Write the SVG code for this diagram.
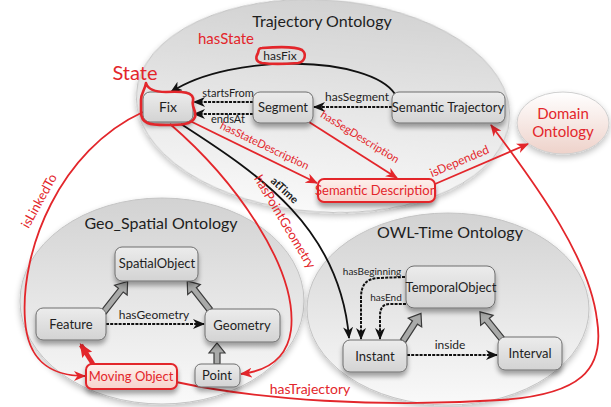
<svg xmlns="http://www.w3.org/2000/svg" width="611" height="407" viewBox="0 0 611 407">
<style>
  text { font-family: Lato, "Open Sans", "Liberation Sans", sans-serif; }
  .title { font-size: 16px; fill: #1e1e1e; text-anchor: middle; }
  .node { font-size: 13px; fill: #1e1e1e; text-anchor: middle; }
  .rnode { font-size: 13px; fill: #e3262b; text-anchor: middle; }
  .lbl { font-size: 11px; fill: #1e1e1e; text-anchor: middle; }
  .small { font-size: 10px; fill: #1e1e1e; text-anchor: middle; }
  .rlbl { font-size: 11px; fill: #e3262b; text-anchor: middle; }
  .onto { fill: url(#ontoFill); stroke: #c4c4c4; stroke-width: 1; filter: url(#ovalShadow); }
  .box { fill: url(#boxFill); stroke: #6e6e6e; stroke-width: 1; filter: url(#shadow); }
  .pbox { fill: url(#pinkFill); stroke: #e3262b; stroke-width: 2; filter: url(#shadow); }
  .dash { fill: none; stroke: #111; stroke-width: 2; stroke-dasharray: 3 1.2; marker-end: url(#arrowK); }
  .solid { fill: none; stroke: #111; stroke-width: 1.8; marker-end: url(#arrowK); }
  .red { fill: none; stroke: #e3262b; stroke-width: 1.8; marker-end: url(#arrowR); }
  .block { fill: #a9aaa9; stroke: #3a3a3a; stroke-width: 1.2; }
  .mark { fill: none; stroke: #e3262b; stroke-width: 2.6; stroke-linejoin: round; }
</style>
<defs>
  <linearGradient id="ontoFill" x1="0" y1="0" x2="0" y2="1">
    <stop offset="0" stop-color="#d2d2d2"/>
    <stop offset="0.7" stop-color="#eeeeee"/>
    <stop offset="1" stop-color="#f9f9f9"/>
  </linearGradient>
  <linearGradient id="boxFill" x1="0" y1="0" x2="0" y2="1">
    <stop offset="0" stop-color="#ececec"/>
    <stop offset="1" stop-color="#d3d3d3"/>
  </linearGradient>
  <linearGradient id="pinkFill" x1="0" y1="0" x2="0" y2="1">
    <stop offset="0" stop-color="#fdf0ec"/>
    <stop offset="1" stop-color="#f7d3cc"/>
  </linearGradient>
  <linearGradient id="domainFill" x1="0" y1="0" x2="0" y2="1">
    <stop offset="0" stop-color="#ffffff"/>
    <stop offset="1" stop-color="#eed2ca"/>
  </linearGradient>
  <filter id="shadow" x="-20%" y="-30%" width="140%" height="190%">
    <feGaussianBlur in="SourceAlpha" stdDeviation="2.5"/>
    <feOffset dy="4" result="b"/>
    <feComponentTransfer><feFuncA type="linear" slope="0.35"/></feComponentTransfer>
    <feMerge><feMergeNode/><feMergeNode in="SourceGraphic"/></feMerge>
  </filter>
  <filter id="ovalShadow" x="-10%" y="-10%" width="120%" height="125%">
    <feGaussianBlur in="SourceAlpha" stdDeviation="3"/>
    <feOffset dy="3"/>
    <feComponentTransfer><feFuncA type="linear" slope="0.25"/></feComponentTransfer>
    <feMerge><feMergeNode/><feMergeNode in="SourceGraphic"/></feMerge>
  </filter>
  <marker id="arrowK" viewBox="0 0 12 10" refX="11" refY="5" markerWidth="12" markerHeight="10" markerUnits="userSpaceOnUse" orient="auto">
    <path d="M0,0 L12,5 L0,10 L3.5,5 Z" fill="#111"/>
  </marker>
  <marker id="arrowR" viewBox="0 0 12 10" refX="11" refY="5" markerWidth="12" markerHeight="10" markerUnits="userSpaceOnUse" orient="auto">
    <path d="M0,0 L12,5 L0,10 L3.5,5 Z" fill="#e3262b"/>
  </marker>
  <marker id="arrowRBig" viewBox="0 0 12 10" refX="10" refY="5" markerWidth="14" markerHeight="13" markerUnits="userSpaceOnUse" orient="auto">
    <path d="M0,0 L12,5 L0,10 L2,5 Z" fill="#e3262b"/>
  </marker>
</defs>

<rect width="611" height="407" fill="#ffffff"/>

<!-- ontology regions -->
<g id="trajectory-ontology">
  <ellipse class="onto" cx="323" cy="106" rx="187" ry="106" transform="rotate(4 323 106)"/>
  <text class="title" x="322" y="27">Trajectory Ontology</text>
</g>
<g id="geo-spatial-ontology">
  <ellipse class="onto" cx="162" cy="301" rx="142" ry="103"/>
  <text class="title" x="161" y="229">Geo_Spatial Ontology</text>
</g>
<g id="owl-time-ontology">
  <ellipse class="onto" cx="448" cy="309" rx="141" ry="96"/>
  <text class="title" x="450" y="238">OWL-Time Ontology</text>
</g>
<g id="domain-ontology">
  <ellipse cx="563" cy="123" rx="46" ry="31" fill="url(#domainFill)" stroke="#cfcfcf" stroke-width="1" filter="url(#ovalShadow)"/>
  <text class="rnode" x="563" y="119" style="font-size:15px">Domain</text>
  <text class="rnode" x="563" y="137" style="font-size:15px">Ontology</text>
</g>

<!-- connectors -->
<g id="connectors">
  <!-- hasFix -->
  <path class="solid" d="M395,94 C370,56 232,52 171,92"/>
  <text class="lbl" x="280" y="60" style="font-size:12px">hasFix</text>
  <!-- hasSegment -->
  <path class="dash" d="M392,107 L314,107"/>
  <text class="lbl" x="357" y="101" style="font-size:12px">hasSegment</text>
  <!-- startsFrom / endsAt -->
  <path class="dash" d="M253,102 L194,102"/>
  <text class="lbl" x="228" y="97">startsFrom</text>
  <path class="dash" d="M253,114 L194,114"/>
  <text class="lbl" x="228" y="123">endsAt</text>
  <!-- hasGeometry -->
  <path class="dash" d="M106,324 L204,324"/>
  <text class="lbl" x="154" y="319" style="font-size:12px">hasGeometry</text>
  <!-- inside -->
  <path class="dash" d="M407,355 L497,355"/>
  <text class="lbl" x="450" y="349" style="font-size:12px">inside</text>
  <!-- hasBeginning / hasEnd -->
  <path class="dash" d="M405,277 L378,278 C366,279 361,285 361,298 L361,339"/>
  <text class="small" x="372" y="275">hasBeginning</text>
  <path class="dash" d="M406,304 L390,304 C383,304 380,308 380,316 L380,339"/>
  <text class="small" x="386" y="301">hasEnd</text>
  <!-- atTime -->
  <path class="solid" d="M181,124 C260,175 340,228 349,338"/>
  <text class="lbl" x="0" y="0" style="font-weight:bold" transform="translate(282,193) rotate(43)">atTime</text>

  <!-- red relations -->
  <path class="red" d="M186,119 L317,183"/>
  <text class="rlbl" transform="translate(263,149) rotate(25.5)">hasStateDescription</text>
  <path class="red" d="M309,122 L397,178"/>
  <text class="rlbl" transform="translate(358,140) rotate(31.5)">hasSegDescription</text>
  <path class="red" d="M435,184 L528,144"/>
  <text class="rlbl" transform="translate(461,165) rotate(-23)" style="font-size:12px">isDepended</text>
  <path class="red" d="M143,112 C60,150 20,250 25,320 C28,365 55,376 85,376"/>
  <text class="rlbl" transform="translate(43,203) rotate(-61)" style="font-size:13px">isLinkedTo</text>
  <path class="red" d="M170,124 C235,180 298,268 291,330 C287,360 266,371 241,374"/>
  <text class="rlbl" transform="translate(281,224) rotate(59)" style="font-size:13px">hasPointGeometry</text>
  <path class="red" d="M176,382 C260,400 380,408 500,400 C580,395 605,370 597,320 C590,260 540,190 491,125"/>
  <text class="rlbl" x="310" y="394" style="font-size:14px">hasTrajectory</text>
  <!-- Moving Object to Feature -->
  <path d="M93,364 L81,345" fill="none" stroke="#e3262b" stroke-width="4.5" marker-end="url(#arrowRBig)"/>

  <!-- generalisation arrows -->
  <path class="block" transform="translate(103,313) rotate(-52)" d="M0,-3 L29,-3 L29,-8 L40,0 L29,8 L29,3 L0,3 Z"/>
  <path class="block" transform="translate(210,310) rotate(-128)" d="M0,-3 L26,-3 L26,-8 L37,0 L26,8 L26,3 L0,3 Z"/>
  <path class="block" transform="translate(217,364) rotate(-90)" d="M0,-3 L11,-3 L11,-8 L21,0 L11,8 L11,3 L0,3 Z"/>
  <path class="block" transform="translate(403,341) rotate(-57)" d="M0,-3 L22,-3 L22,-8 L33,0 L22,8 L22,3 L0,3 Z"/>
  <path class="block" transform="translate(502,339) rotate(-129)" d="M0,-3 L24,-3 L24,-8 L35,0 L24,8 L24,3 L0,3 Z"/>
</g>

<!-- trajectory nodes -->
<g id="fix">
  <rect class="box" x="143" y="92" width="50" height="30" rx="7"/>
  <text class="node" x="168" y="112" style="font-size:14px">Fix</text>
  <path class="mark" d="M146,83 C148,90 155,92 166,92 C182,91 195,92 193,101 C191,107 197,111 195,117 C192,125 180,125 166,125 C150,125 141,124 141,112 L141,100 C141,93 145,90 146,83 Z"/>
  <text class="rnode" x="135" y="80" style="font-size:20px">State</text>
</g>
<g id="segment">
  <rect class="box" x="253" y="92" width="60" height="31" rx="7"/>
  <text class="node" x="283" y="112">Segment</text>
</g>
<g id="semantic-trajectory">
  <rect class="box" x="392" y="92" width="113" height="31" rx="7"/>
  <text class="node" x="448" y="112">Semantic Trajectory</text>
</g>
<g id="semantic-description">
  <rect class="pbox" x="318" y="179" width="117" height="23" rx="6"/>
  <text class="rnode" x="376" y="195">Semantic Description</text>
</g>
<g id="has-state">
  <path class="mark" d="M262,48 C275,47 295,46 302,50 C307,54 305,62 298,63 C285,64 270,64 262,63 C256,62 255,58 258,53 C259,50 258,48 262,48 Z"/>
  <text class="rnode" x="226" y="44" style="font-size:15px">hasState</text>
</g>

<!-- geo-spatial nodes -->
<g id="spatial-object">
  <rect class="box" x="115" y="247" width="83" height="34" rx="7"/>
  <text class="node" x="157" y="268">SpatialObject</text>
</g>
<g id="feature">
  <rect class="box" x="36" y="308" width="70" height="32" rx="7"/>
  <text class="node" x="71" y="329">Feature</text>
</g>
<g id="geometry">
  <rect class="box" x="205" y="309" width="75" height="33" rx="7"/>
  <text class="node" x="242" y="330">Geometry</text>
</g>
<g id="point">
  <rect class="box" x="195" y="364" width="45" height="23" rx="6"/>
  <text class="node" x="217" y="380">Point</text>
</g>
<g id="moving-object">
  <rect class="pbox" x="86" y="364" width="91" height="25" rx="6"/>
  <text class="rnode" x="131" y="381">Moving Object</text>
</g>

<!-- time nodes -->
<g id="temporal-object">
  <rect class="box" x="406" y="266" width="89" height="42" rx="8"/>
  <text class="node" x="451" y="292">TemporalObject</text>
</g>
<g id="instant">
  <rect class="box" x="343" y="340" width="64" height="32" rx="7"/>
  <text class="node" x="375" y="361">Instant</text>
</g>
<g id="interval">
  <rect class="box" x="498" y="337" width="64" height="33" rx="7"/>
  <text class="node" x="530" y="358">Interval</text>
</g>
</svg>
